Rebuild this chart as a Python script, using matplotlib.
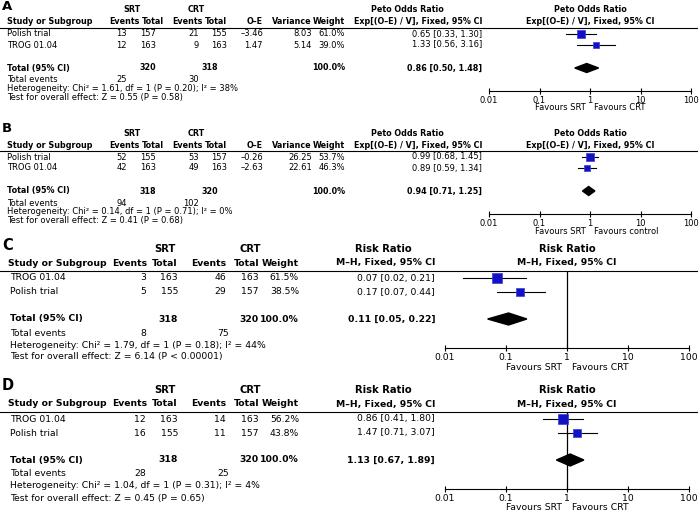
import numpy as np
import matplotlib.pyplot as plt
from matplotlib.patches import Polygon

# ── Data ──────────────────────────────────────────────────────────────────────
# Panel A: Peto odds ratio
studies_a = ["Polish trial", "TROG 01.04"]
srt_events_a = [13, 12]
srt_total_a = [157, 163]
crt_events_a = [21, 9]
crt_total_a = [155, 163]
oe_a = [-3.46, 1.47]
var_a = [8.03, 5.14]
weight_a = [61.0, 39.0]
est_a = [0.65, 1.33]
lo_a = [0.33, 0.56]
hi_a = [1.30, 3.16]
pooled_a = [0.86, 0.50, 1.48]
sum_total_a = [320, 318]
sum_events_a = [25, 30]
het_a = "Heterogeneity: Chi² = 1.61, df = 1 (P = 0.20); I² = 38%"
z_a = "Test for overall effect: Z = 0.55 (P = 0.58)"

# Panel B: Peto odds ratio
studies_b = ["Polish trial", "TROG 01.04"]
srt_events_b = [52, 42]
srt_total_b = [155, 163]
crt_events_b = [53, 49]
crt_total_b = [157, 163]
oe_b = [-0.26, -2.63]
var_b = [26.25, 22.61]
weight_b = [53.7, 46.3]
est_b = [0.99, 0.89]
lo_b = [0.68, 0.59]
hi_b = [1.45, 1.34]
pooled_b = [0.94, 0.71, 1.25]
sum_total_b = [318, 320]
sum_events_b = [94, 102]
het_b = "Heterogeneity: Chi² = 0.14, df = 1 (P = 0.71); I² = 0%"
z_b = "Test for overall effect: Z = 0.41 (P = 0.68)"

# Panel C: risk ratio
studies_c = ["TROG 01.04", "Polish trial"]
srt_events_c = [3, 5]
srt_total_c = [163, 155]
crt_events_c = [46, 29]
crt_total_c = [163, 157]
weight_c = [61.5, 38.5]
est_c = [0.07, 0.17]
lo_c = [0.02, 0.07]
hi_c = [0.21, 0.44]
pooled_c = [0.11, 0.05, 0.22]
sum_total_c = [318, 320]
sum_events_c = [8, 75]
het_c = "Heterogeneity: Chi² = 1.79, df = 1 (P = 0.18); I² = 44%"
z_c = "Test for overall effect: Z = 6.14 (P < 0.00001)"

# Panel D: risk ratio
studies_d = ["TROG 01.04", "Polish trial"]
srt_events_d = [12, 16]
srt_total_d = [163, 155]
crt_events_d = [14, 11]
crt_total_d = [163, 157]
weight_d = [56.2, 43.8]
est_d = [0.86, 1.47]
lo_d = [0.41, 0.71]
hi_d = [1.80, 3.07]
pooled_d = [1.13, 0.67, 1.89]
sum_total_d = [318, 320]
sum_events_d = [28, 25]
het_d = "Heterogeneity: Chi² = 1.04, df = 1 (P = 0.31); I² = 4%"
z_d = "Test for overall effect: Z = 0.45 (P = 0.65)"

ticks = [0.01, 0.1, 1, 10, 100]
tick_labels = ["0.01", "0.1", "1", "10", "100"]

# ── Figure (pixel coordinates on a background axes) ──────────────────────────
W, H = 700, 517
BLUE = '#1212c4'
fig = plt.figure(figsize=(7, 5.17), dpi=100)
base = fig.add_axes([0, 0, 1, 1])
base.set_xlim(0, W)
base.set_ylim(H, 0)
base.axis('off')


def txt(x, y, s, ha='left', bold=False, size=5.7, **kw):
    base.text(x, y, s, ha=ha, va='center', fontsize=size,
              fontweight='bold' if bold else 'normal', **kw)


def fmt(v):
    return f"{v:.2f}".replace('-', '–')


def ci(e, l, h):
    return f"{e:.2f} [{l:.2f}, {h:.2f}]"


def forest(x0, x1, ytop, yaxis, rows, est, lo, hi, weight, pooled, ytot,
           k, dh, fs, vline, fav, favy, fav_gap):
    ax = fig.add_axes([x0 / W, 1 - yaxis / H, (x1 - x0) / W, (yaxis - ytop) / H])
    ax.set_xscale('log')
    ax.set_xlim(0.01, 100)
    ax.set_ylim(yaxis, ytop)
    ax.patch.set_alpha(0)
    for s in ['top', 'left', 'right']:
        ax.spines[s].set_visible(False)
    ax.spines['bottom'].set_linewidth(0.8)
    ax.set_yticks([])
    ax.set_xticks(ticks)
    ax.set_xticklabels(tick_labels, fontsize=fs)
    ax.minorticks_off()
    ax.tick_params(axis='x', direction='inout', length=5, width=0.8, pad=1)
    if vline:
        ax.axvline(1, color='black', lw=0.9)
    for y, e, l, h, w in zip(rows, est, lo, hi, weight):
        ax.plot([l, h], [y, y], color='black', lw=0.8, clip_on=False)
        ax.plot(e, y, marker='s', ms=k * np.sqrt(w) * 0.72, mfc=BLUE,
                mec='#3a3ad8', mew=0.5, clip_on=False)
    pe, pl, ph = pooled
    ax.add_patch(Polygon([(pl, ytot), (pe, ytot - dh / 2), (ph, ytot),
                          (pe, ytot + dh / 2)], closed=True, color='black',
                         clip_on=False))
    xc = x0 + (x1 - x0) / 2
    txt(xc - fav_gap, favy, "Favours SRT", ha='right', size=fs)
    txt(xc + fav_gap, favy, fav, ha='left', size=fs)


def panel_ab(off, label, studies, se, st, ce, ct, oe, var, wt, est, lo, hi,
             pooled, stot, sev, het, z, fav):
    fb = 5.8   # bold text
    fs = 6.0   # regular text
    txt(2, 6 + off, label, bold=True, size=9.5)
    txt(132, 10 + off, "SRT", ha='center', bold=True, size=fb)
    txt(196, 10 + off, "CRT", ha='center', bold=True, size=fb)
    txt(407, 10 + off, "Peto Odds Ratio", ha='center', bold=True, size=fb)
    txt(590, 10 + off, "Peto Odds Ratio", ha='center', bold=True, size=fb)
    yh = 22 + off
    txt(7, yh, "Study or Subgroup", bold=True, size=fb)
    for x, s in zip([140, 164, 203, 227, 263, 312, 345],
                    ["Events", "Total", "Events", "Total", "O–E", "Variance", "Weight"]):
        txt(x, yh, s, ha='right', bold=True, size=fb)
    txt(482, yh, "Exp[(O–E) / V], Fixed, 95% CI", ha='right', bold=True, size=fb)
    txt(590, yh, "Exp[(O–E) / V], Fixed, 95% CI", ha='center', bold=True, size=fb)
    base.plot([0, 697], [28 + off, 28 + off], color='black', lw=0.8)
    rows = [34 + off, 45 + off]
    for i, y in enumerate(rows):
        txt(7, y, studies[i], size=fs)
        txt(127, y, str(se[i]), ha='right', size=fs)
        txt(156, y, str(st[i]), ha='right', size=fs)
        txt(199, y, str(ce[i]), ha='right', size=fs)
        txt(227, y, str(ct[i]), ha='right', size=fs)
        txt(263, y, fmt(oe[i]), ha='right', size=fs)
        txt(312, y, fmt(var[i]), ha='right', size=fs)
        txt(345, y, f"{wt[i]:.1f}%", ha='right', size=fs)
        txt(482, y, ci(est[i], lo[i], hi[i]), ha='right', size=fs)
    yt = 68 + off
    txt(7, yt, "Total (95% CI)", bold=True, size=fb)
    txt(156, yt, str(stot[0]), ha='right', bold=True, size=fb)
    txt(218, yt, str(stot[1]), ha='right', bold=True, size=fb)
    txt(345, yt, "100.0%", ha='right', bold=True, size=fb)
    txt(482, yt, ci(*pooled), ha='right', bold=True, size=fb)
    txt(7, 80 + off, "Total events", size=fs)
    txt(127, 80 + off, str(sev[0]), ha='right', size=fs)
    txt(199, 80 + off, str(sev[1]), ha='right', size=fs)
    txt(7, 88.5 + off, het, size=fs)
    txt(7, 97.5 + off, z, size=fs)
    forest(489, 691, 28 + off, 91 + off, rows, est, lo, hi, wt, pooled, yt,
           k=1.0, dh=9, fs=fs, vline=False, fav=fav, favy=108 + off, fav_gap=4)


def panel_cd(off, label, studies, se, st, ce, ct, wt, est, lo, hi,
             pooled, stot, sev, het, z):
    fs = 6.7
    txt(2, 245 + off, label, bold=True, size=10.5)
    txt(165, 249 + off, "SRT", ha='center', bold=True, size=fs + 0.5)
    txt(250, 249 + off, "CRT", ha='center', bold=True, size=fs + 0.5)
    txt(383, 249 + off, "Risk Ratio", ha='center', bold=True, size=fs + 0.5)
    txt(567, 249 + off, "Risk Ratio", ha='center', bold=True, size=fs + 0.5)
    yh = 263 + off
    txt(8, yh, "Study or Subgroup", bold=True, size=fs)
    for x, s in zip([147, 178, 226, 259, 299],
                    ["Events", "Total", "Events", "Total", "Weight"]):
        txt(x, yh, s, ha='right', bold=True, size=fs)
    txt(435, yh, "M–H, Fixed, 95% CI", ha='right', bold=True, size=fs)
    txt(567, yh, "M–H, Fixed, 95% CI", ha='center', bold=True, size=fs)
    base.plot([0, 697], [271 + off, 271 + off], color='black', lw=0.8)
    rows = [278 + off, 292 + off]
    for i, y in enumerate(rows):
        txt(10, y, studies[i], size=fs)
        txt(146, y, str(se[i]), ha='right', size=fs)
        txt(178, y, str(st[i]), ha='right', size=fs)
        txt(226, y, str(ce[i]), ha='right', size=fs)
        txt(259, y, str(ct[i]), ha='right', size=fs)
        txt(299, y, f"{wt[i]:.1f}%", ha='right', size=fs)
        txt(435, y, ci(est[i], lo[i], hi[i]), ha='right', size=fs)
    yt = 319 + off
    txt(10, yt, "Total (95% CI)", bold=True, size=fs)
    txt(178, yt, str(stot[0]), ha='right', bold=True, size=fs)
    txt(259, yt, str(stot[1]), ha='right', bold=True, size=fs)
    txt(299, yt, "100.0%", ha='right', bold=True, size=fs)
    txt(435, yt, ci(*pooled), ha='right', bold=True, size=fs)
    txt(10, 333 + off, "Total events", size=fs)
    txt(146, 333 + off, str(sev[0]), ha='right', size=fs)
    txt(229, 333 + off, str(sev[1]), ha='right', size=fs)
    txt(10, 345 + off, het, size=fs)
    txt(10, 357 + off, z, size=fs)
    forest(445, 689, 271 + off, 348 + off, rows, est, lo, hi, wt, pooled, yt,
           k=1.25, dh=12, fs=fs, vline=True, fav="Favours CRT",
           favy=367 + off, fav_gap=5)


panel_ab(0, "A", studies_a, srt_events_a, srt_total_a, crt_events_a, crt_total_a,
         oe_a, var_a, weight_a, est_a, lo_a, hi_a, pooled_a, sum_total_a,
         sum_events_a, het_a, z_a, "Favours CRT")
panel_ab(123, "B", studies_b, srt_events_b, srt_total_b, crt_events_b, crt_total_b,
         oe_b, var_b, weight_b, est_b, lo_b, hi_b, pooled_b, sum_total_b,
         sum_events_b, het_b, z_b, "Favours control")
panel_cd(0, "C", studies_c, srt_events_c, srt_total_c, crt_events_c, crt_total_c,
         weight_c, est_c, lo_c, hi_c, pooled_c, sum_total_c, sum_events_c,
         het_c, z_c)
panel_cd(141, "D", studies_d, srt_events_d, srt_total_d, crt_events_d, crt_total_d,
         weight_d, est_d, lo_d, hi_d, pooled_d, sum_total_d, sum_events_d,
         het_d, z_d)

fig.savefig('out.png', dpi=100)
